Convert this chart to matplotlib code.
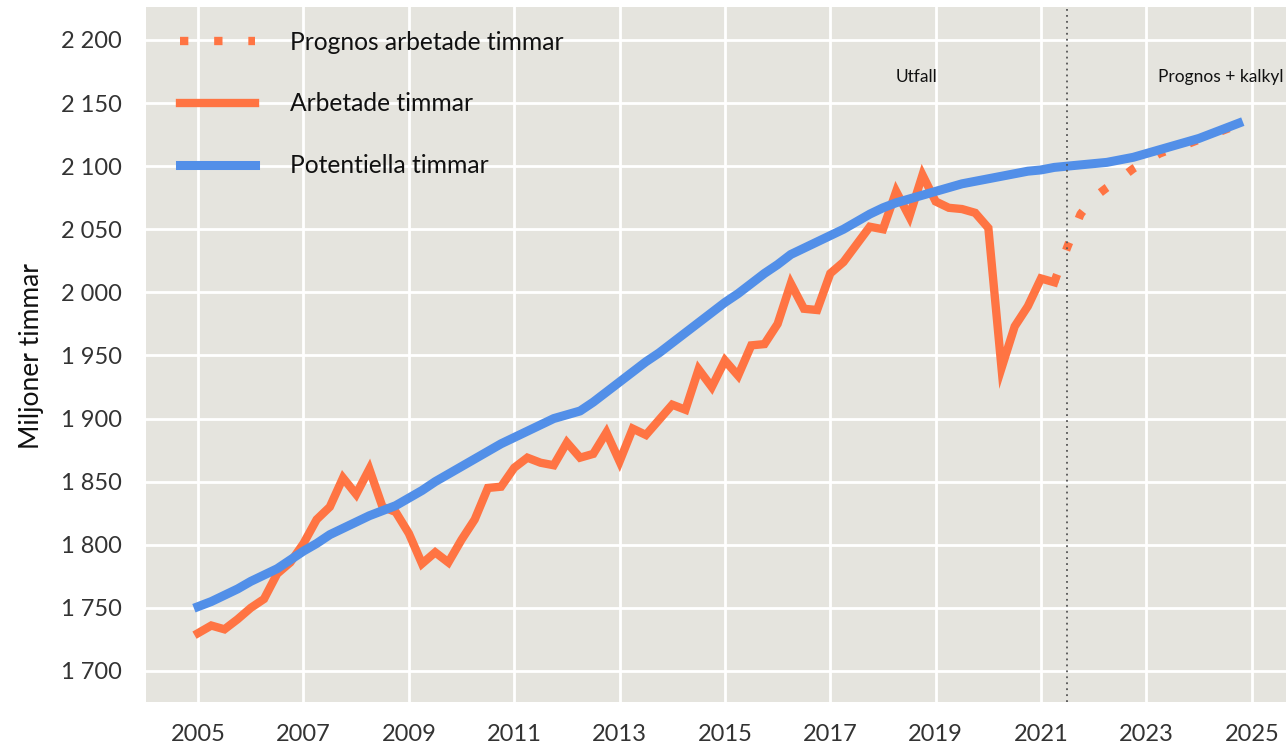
import numpy as np
import matplotlib
matplotlib.use("Agg")
import matplotlib.pyplot as plt

# quarterly data, miljoner timmar
start_year = 2005.0
arbetade = [1730, 1736, 1733, 1741,   # 2005
            1750, 1757, 1777, 1786,   # 2006
            1801, 1820, 1830, 1853,   # 2007
            1840, 1860, 1830, 1826,   # 2008
            1809, 1785, 1794, 1786,   # 2009
            1804, 1820, 1845, 1846,   # 2010
            1861, 1869, 1865, 1863,   # 2011
            1881, 1869, 1872, 1889,   # 2012
            1866, 1892, 1887, 1899,   # 2013
            1911, 1907, 1939, 1925,   # 2014
            1946, 1934, 1958, 1959,   # 2015
            1975, 2007, 1987, 1986,   # 2016
            2015, 2024, 2038, 2052,   # 2017
            2050, 2080, 2060, 2093,   # 2018
            2072, 2067, 2066, 2063,   # 2019
            2051, 1940, 1973, 1989,   # 2020
            2011, 2008]               # 2021 Q1-Q2
prognos = [2008, 2036, 2062,          # 2021 Q2-Q4
           2075, 2083, 2090, 2098,    # 2022
           2104, 2110, 2114, 2117,    # 2023
           2121, 2125, 2129, 2133]    # 2024
potentiella = [1751, 1755, 1760, 1765,
               1771, 1776, 1781, 1788,
               1795, 1801, 1808, 1813,
               1818, 1823, 1827, 1831,
               1837, 1843, 1850, 1856,
               1862, 1868, 1874, 1880,
               1885, 1890, 1895, 1900,
               1903, 1906, 1913, 1921,
               1929, 1937, 1945, 1952,
               1960, 1968, 1976, 1984,
               1992, 1999, 2007, 2015,
               2022, 2030, 2035, 2040,
               2045, 2050, 2056, 2062,
               2067, 2071, 2074, 2077,
               2080, 2083, 2086, 2088,
               2090, 2092, 2094, 2096,
               2097, 2099, 2100, 2101,
               2102, 2103, 2105, 2107,
               2110, 2113, 2116, 2119,
               2122, 2126, 2130, 2134]
split_year = 2021.5
xticks = [2005, 2007, 2009, 2011, 2013, 2015, 2017, 2019, 2021, 2023, 2025]
yticks = [1700, 1750, 1800, 1850, 1900, 1950, 2000, 2050, 2100, 2150, 2200]

orange = '#ff7443'
blue = '#528fe8'
bg = '#e5e4de'

plt.rcParams['font.family'] = ['Lato', 'DejaVu Sans']

t_arb = start_year + np.arange(len(arbetade)) * 0.25
t_prog = t_arb[-1] + np.arange(len(prognos)) * 0.25
t_pot = start_year + np.arange(len(potentiella)) * 0.25

fig = plt.figure(figsize=(12.86, 7.45), dpi=100)
ax = fig.add_axes([0.1135, 0.0577, 0.8865, 0.9329])
ax.set_facecolor(bg)

ax.plot(t_prog, prognos, color=orange, lw=6, dashes=(1, 3.1),
        dash_capstyle='butt', label='Prognos arbetade timmar', zorder=3)
ax.plot(t_arb, arbetade, color=orange, lw=6, solid_joinstyle='miter',
        label='Arbetade timmar', zorder=4)
ax.plot(t_pot, potentiella, color=blue, lw=6.5, label='Potentiella timmar', zorder=5)

ax.axvline(split_year, color='#555555', lw=1.3, ls=(0, (1, 2.3)), zorder=6)
ax.text(2018.64, 2171, 'Utfall', fontsize=12.5, ha='center', va='center', color='#111111')
ax.text(2024.41, 2171, 'Prognos + kalkyl', fontsize=12.5, ha='center', va='center', color='#111111')

ax.set_xlim(2004.01, 2025.65)
ax.set_ylim(1675.4, 2226.1)
ax.set_xticks(xticks)
ax.set_yticks(yticks)
ax.set_yticklabels([f"{v:,}".replace(",", " ") for v in yticks])
ax.grid(True, color='white', lw=2)
ax.set_axisbelow(True)
for s in ax.spines.values():
    s.set_visible(False)
ax.tick_params(length=0, labelsize=17, labelcolor='#333333')
ax.tick_params(axis='y', pad=17.5)
ax.tick_params(axis='x', pad=15.5)

ax.set_ylabel('Miljoner timmar', fontsize=19, color='#111111')
ax.yaxis.set_label_coords(-0.089, 0.498)

leg = ax.legend(loc='upper left', bbox_to_anchor=(0.0298, 0.966), frameon=False,
                fontsize=17.7, handlelength=3.07, handletextpad=1.39,
                labelspacing=1.58, borderpad=0, borderaxespad=0)
for txt in leg.get_texts():
    txt.set_color('#111111')

fig.savefig('out.png', dpi=100)
